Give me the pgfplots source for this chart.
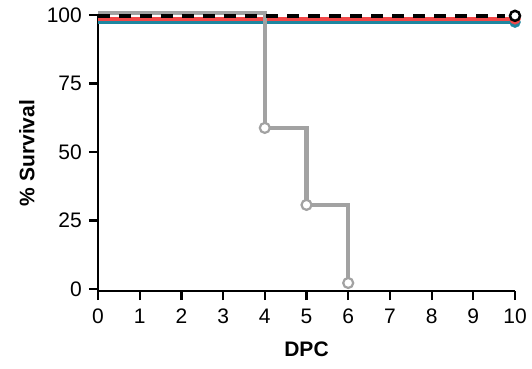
\documentclass[border=0pt]{standalone}
\usepackage{pgfplots}
\pgfplotsset{compat=1.18}
\usepackage{fontspec}
\setmainfont{Liberation Sans}
\definecolor{cgray}{RGB}{162,162,162}
\definecolor{cred}{RGB}{242,72,72}
\definecolor{cteal}{RGB}{30,135,160}
\begin{document}
\fontsize{21}{24}\selectfont
\begin{tikzpicture}
\path[use as bounding box] (-98pt,-77pt) rectangle (434pt,291pt);
\begin{axis}[
  at={(0,0)}, anchor=south west,
  scale only axis, width=417pt, height=276pt,
  xmin=0, xmax=10, ymin=-0.73, ymax=100,
  axis x line*=bottom, axis y line*=left,
  axis line style={line width=2.2pt, black},
  xtick={0,1,...,10}, ytick={0,25,50,75,100},
  tick align=outside, major tick length=9pt,
  tick style={line width=2.2pt, black},
  tick label style={font=\fontsize{21}{24}\selectfont},
  /pgf/number format/assume math mode=true,
  xticklabel style={yshift=-2pt},
  xlabel={\textbf{DPC}}, ylabel={\textbf{\% Survival}},
  label style={font=\fontsize{21}{24}\selectfont},
  xlabel style={yshift=-4pt},
  ylabel style={yshift=-2pt},
  clip=false,
]
\addplot[cteal, line width=4.5pt, const plot] coordinates {(0,97.4) (10,97.4)};
\addplot[cteal, only marks, mark=*, mark size=5.5pt, mark options={fill=cteal, draw=cteal}] coordinates {(10,97.4)};
\addplot[cred, line width=4.5pt, const plot] coordinates {(0,98.6) (10,98.6)};
\addplot[cred, only marks, mark=*, mark size=5.5pt, mark options={fill=cred, draw=cred}] coordinates {(10,98.6)};
\addplot[cgray, line width=4.5pt, const plot] coordinates {(0,100.8) (4,58.8) (5,30.7) (6,2.2)};
\addplot[cgray, only marks, mark=*, mark size=5pt, mark options={fill=white, draw=cgray, line width=2.2pt}] coordinates {(4,58.8) (5,30.7) (6,2.2)};
\addplot[black, line width=4.5pt, dash pattern=on 12pt off 9pt] coordinates {(0,99.7) (9.75,99.7)};
\addplot[black, only marks, mark=*, mark size=5pt, mark options={fill=white, draw=black, line width=2.5pt}] coordinates {(10,99.7)};
\end{axis}
\end{tikzpicture}
\end{document}
